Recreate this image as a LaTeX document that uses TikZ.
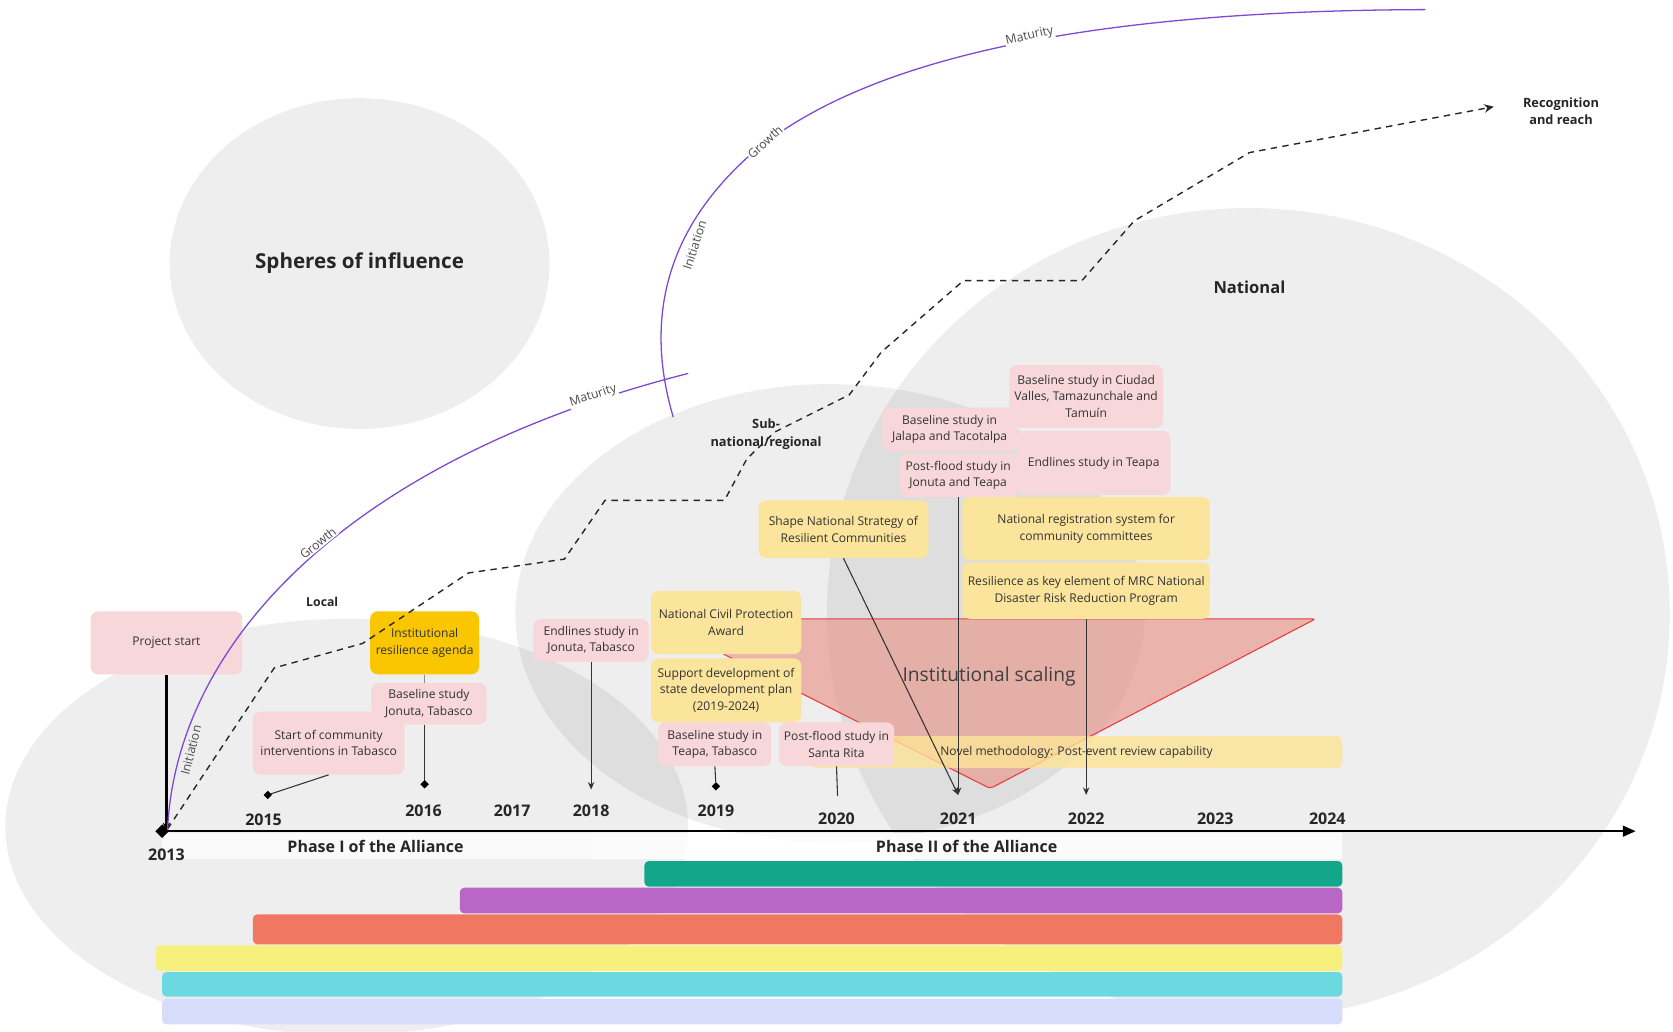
\documentclass[tikz,border=0pt]{standalone}
\usepackage{fontspec}
\setmainfont{Open Sans}
\usetikzlibrary{arrows.meta,shapes.geometric}
\definecolor{pinkbox}{RGB}{247,215,217}
\definecolor{goldbox}{RGB}{249,198,0}
\definecolor{ylwbox}{RGB}{251,228,155}
\definecolor{txt}{RGB}{51,51,51}
\definecolor{purp}{RGB}{125,72,210}
\definecolor{redl}{RGB}{232,60,60}
\definecolor{trifill}{RGB}{232,150,138}
\definecolor{novel}{RGB}{252,228,150}
\definecolor{cteal}{RGB}{18,167,138}
\definecolor{cpurple}{RGB}{185,103,199}
\definecolor{corange}{RGB}{240,120,98}
\definecolor{cyellow}{RGB}{248,240,124}
\definecolor{ccyan}{RGB}{108,217,224}
\definecolor{clav}{RGB}{215,220,250}
\begin{document}
\begin{tikzpicture}[x=1pt,y=-1pt,
  evbox/.style={rounded corners=7pt, align=center, text=txt, font=\fontsize{11.3}{15.5}\selectfont, inner sep=2pt},
  pinkb/.style={evbox, fill=pinkbox},
  goldb/.style={evbox, fill=goldbox},
  ylwb/.style={evbox, fill=ylwbox},
  yr/.style={font=\bfseries\fontsize{15}{18}\selectfont, text=black!85},
  conn/.style={draw=black!80, line width=1pt},
  arr/.style={conn, -{Stealth[length=7pt,width=6pt]}},
  dia/.style={diamond, fill=black, inner sep=0pt, minimum size=8pt},
  sphere/.style={fill=black, fill opacity=0.065},
  spherelab/.style={font=\bfseries, text=black!85, align=center},
  curvelab/.style={font=\fontsize{11.5}{13}\selectfont, text=black!70, inner sep=1pt},
  purpl/.style={draw=purp, line width=1.2pt},
  reach/.style={draw=black!85, line width=1.3pt, dash pattern=on 6pt off 5pt},
  tbar/.style={rounded corners=4pt}
]
\useasboundingbox (0,0) rectangle (1568,967);
\fill[white] (0,0) rectangle (1568,967);
\clip (0,0) rectangle (1568,967);

% spheres
\fill[sphere] (337,247) ellipse [x radius=178pt, y radius=155pt];
\fill[sphere] (325,775) ellipse [x radius=320pt, y radius=195pt];
\fill[sphere] (778,575) ellipse [x radius=295pt, y radius=215pt];
\fill[sphere] (1170,575) ellipse [x radius=395pt, y radius=380pt];

\node[spherelab, font=\bfseries\fontsize{19.3}{22}\selectfont] (soi) at (337,247) {Spheres of influence};
\node[spherelab, font=\bfseries\fontsize{11.5}{14}\selectfont] (loc) at (302,564) {Local};
\node[spherelab, font=\bfseries\fontsize{12}{16.5}\selectfont] (subn) at (718,407) {Sub-\\national/regional};
\node[spherelab, font=\bfseries\fontsize{15.5}{18}\selectfont] (nat) at (1171,269) {National};

% institutional scaling triangle
\filldraw[draw=redl, line width=1pt, fill=trifill, fill opacity=0.65, rounded corners=3pt]
  (676,580) -- (1233,580) -- (928,739) -- (676,612) -- cycle;
\node[font=\fontsize{18}{21}\selectfont, text=black!75] (isc) at (927,634) {Institutional scaling};

% novel methodology band
\node[fill=novel, fill opacity=0.8, text opacity=1, rounded corners=5pt, minimum width=498pt, minimum height=30pt, inner sep=0pt,
  font=\fontsize{11.3}{13}\selectfont, text=txt] (nm) at (1009,705) {Novel methodology: Post-event review capability};

% phase bands
\fill[white, opacity=0.75] (152,781) rectangle (555,805);
\fill[white, opacity=0.8] (555,781) rectangle (1258,805);
\node[font=\bfseries\fontsize{15}{18}\selectfont, text=black!85] (ph1) at (352,793) {Phase I of the Alliance};
\node[font=\bfseries\fontsize{15}{18}\selectfont, text=black!85] (ph2) at (906,793) {Phase II of the Alliance};

% bars
\fill[tbar, cteal] (604,807) rectangle (1258,831);
\fill[tbar, cpurple] (431,832) rectangle (1258,856);
\fill[tbar, corange] (237,857) rectangle (1258,885);
\fill[tbar, cyellow] (146,886) rectangle (1258,910);
\fill[tbar, ccyan] (152,911) rectangle (1258,934);
\fill[tbar, clav] (152,936) rectangle (1258,960);

% timeline axis
\coordinate (t0) at (152,779);
\coordinate (tend) at (1533,779);
\draw[line width=2.2pt, -{Triangle[length=12pt,width=10pt]}] (t0) -- (tend);

% event boxes
\node[pinkb, minimum width=142pt, minimum height=59pt] (ps) at (156,602.5) {Project start};
\node[pinkb, minimum width=142pt, minimum height=59pt] (sc) at (308,696.5) {Start of community\\interventions in Tabasco};
\node[pinkb, minimum width=108pt, minimum height=39pt] (bj) at (402,659.5) {Baseline study\\Jonuta, Tabasco};
\node[goldb, minimum width=102pt, minimum height=59pt] (ira) at (398,602.5) {Institutional\\resilience agenda};
\node[pinkb, minimum width=108pt, minimum height=40pt] (ej) at (554,600) {Endlines study in\\Jonuta, Tabasco};
\node[ylwb, minimum width=141pt, minimum height=59pt] (ncp) at (680.5,583.5) {National Civil Protection\\Award};
\node[ylwb, minimum width=141pt, minimum height=60pt] (sdp) at (680.5,647) {Support development of\\state development plan\\(2019-2024)};
\node[pinkb, minimum width=106pt, minimum height=41pt] (bt) at (670,697.5) {Baseline study in\\Teapa, Tabasco};
\node[pinkb, minimum width=108pt, minimum height=41pt] (psr) at (784,697.5) {Post-flood study in\\Santa Rita};
\node[ylwb, minimum width=159pt, minimum height=54pt] (sns) at (790.5,496) {Shape National Strategy of\\Resilient Communities};
\node[pinkb, minimum width=126pt, minimum height=41pt] (bjt) at (890,402.5) {Baseline study in\\Jalapa and Tacotalpa};
\node[pinkb, minimum width=110pt, minimum height=41pt] (pjt) at (898,445.5) {Post-flood study in\\Jonuta and Teapa};
\node[pinkb, minimum width=144pt, minimum height=59pt] (bcv) at (1018,371.5) {Baseline study in Ciudad\\Valles, Tamazunchale and\\Tamuín};
\node[pinkb, minimum width=144pt, minimum height=60pt] (et) at (1025,434) {Endlines study in Teapa};
\node[ylwb, minimum width=232pt, minimum height=59pt] (nrs) at (1018,495.5) {National registration system for\\community committees};
\node[ylwb, minimum width=232pt, minimum height=53pt] (mrc) at (1018,553.5) {Resilience as key element of MRC National\\Disaster Risk Reduction Program};

% markers and connector ends
\node[dia] (d15) at (251,745) {};
\node[dia] (d16) at (398,735) {};
\node[dia] (d19) at (671,737) {};
\coordinate (e18) at (554,740);
\coordinate (e20) at (785,746);
\coordinate (e21) at (898,745);
\coordinate (e22) at (1018,745);

% connectors
\draw[line width=2pt, -{Stealth[length=8pt,width=7pt]}] (ps.south) -- (ps.south |- t0);
\draw[conn] (sc.south) -- (d15);
\draw[conn, draw=black!45] (ira.south) -- (ira.south |- bj.north);
\draw[conn] (bj.south -| d16) -- (d16);
\draw[arr] (ej.south) -- (e18);
\draw[conn] (bt.south) -- (d19);
\draw[conn] (psr.south) -- (e20);
\draw[arr] (sns.south) -- (e21);
\draw[arr] (pjt.south) -- (e21);
\draw[arr] (mrc.south) -- (e22);

\node[diamond, fill=black, minimum size=13pt, inner sep=0pt] (d13) at (t0) {};

% recognition and reach
\node[font=\bfseries\fontsize{12}{16}\selectfont, text=black!85, align=center] (rr) at (1463,104) {Recognition\\and reach};
\coordinate (rrend) at (1400,100);
\draw[reach, -{Stealth[length=9pt,width=8pt]}] (157,777) -- (257,626) -- (340,603) -- (439,537) -- (529,524) -- (567,469)
  -- (679,469) -- (700,430) -- (726,405) -- (796,370) -- (826,330) -- (903,263) -- (1014,263) -- (1063,207)
  -- (1171,143) -- (rrend);

% growth curves
\draw[purpl] (157,778) .. controls (165,600) and (330,430) .. (645,350);
\draw[purpl] (631,391) .. controls (610,320) and (610,230) .. (700,148)
  .. controls (800,60) and (1000,10) .. (1336,9);

\node[curvelab, rotate=76] (ci1) at (179,703) {Initiation};
\node[curvelab, rotate=39, fill=white] (cg1) at (298,509) {Growth};
\node[curvelab, rotate=18, fill=white] (cm1) at (556,371) {Maturity};
\node[curvelab, rotate=72] (ci2) at (651,230) {Initiation};
\node[curvelab, rotate=43, fill=white] (cg2) at (717,133) {Growth};
\node[curvelab, rotate=13, fill=white] (cm2) at (965,34) {Maturity};

% years
\node[yr] (y13) at (156,801) {2013};
\node[yr] (y15) at (247,768) {2015};
\node[yr] (y16) at (397,760) {2016};
\node[yr] (y17) at (480,760) {2017};
\node[yr] (y18) at (554,760) {2018};
\node[yr] (y19) at (671,760) {2019};
\node[yr] (y20) at (784,767) {2020};
\node[yr] (y21) at (898,767) {2021};
\node[yr] (y22) at (1018,767) {2022};
\node[yr] (y23) at (1139,767) {2023};
\node[yr] (y24) at (1244,767) {2024};
\end{tikzpicture}
\end{document}
